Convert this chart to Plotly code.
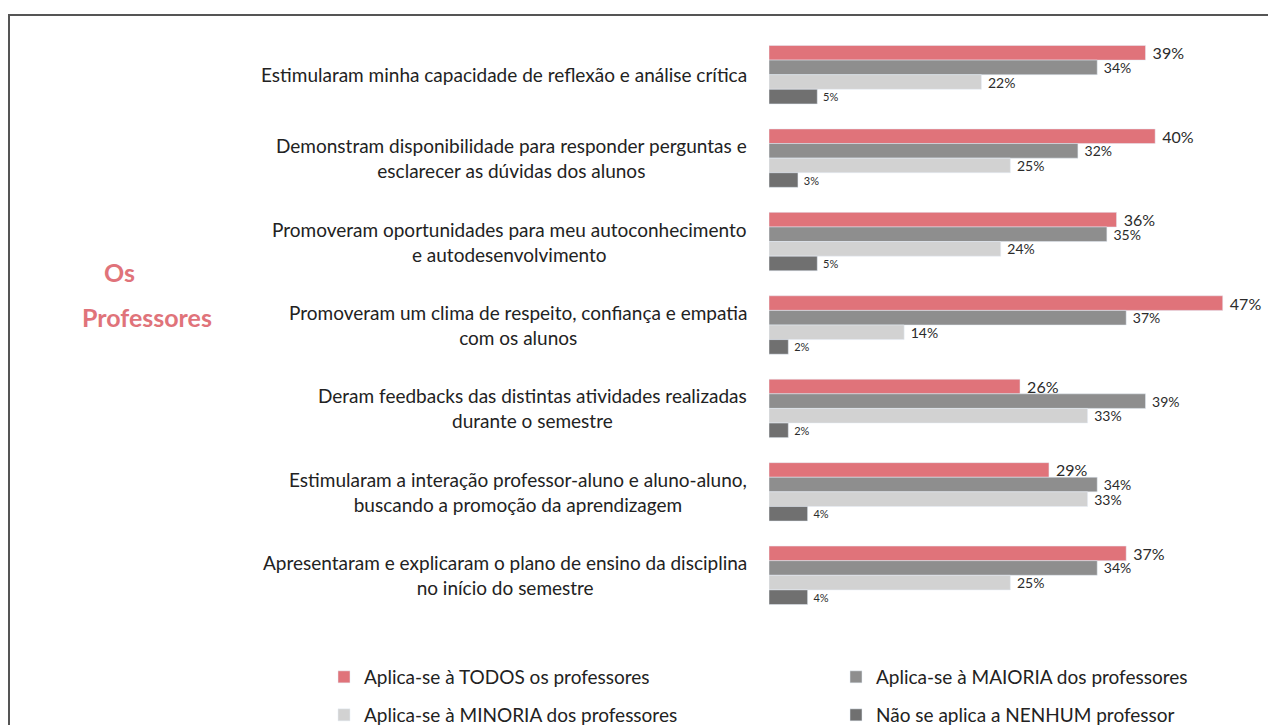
import plotly.graph_objects as go

categories = [
    "Estimularam minha capacidade de reflexão e análise crítica",
    "Demonstram disponibilidade para responder perguntas e<br>esclarecer as dúvidas dos alunos",
    "Promoveram oportunidades para meu autoconhecimento<br>e autodesenvolvimento",
    "Promoveram um clima de respeito, confiança e empatia<br>com os alunos",
    "Deram feedbacks das distintas atividades realizadas<br>durante o semestre",
    "Estimularam a interação professor-aluno e aluno-aluno,<br>buscando a promoção da aprendizagem",
    "Apresentaram e explicaram o plano de ensino da disciplina<br>no início do semestre",
]

todos = [39, 40, 36, 47, 26, 29, 37]
maioria = [34, 32, 35, 37, 39, 34, 34]
minoria = [22, 25, 24, 14, 33, 33, 25]
nenhum = [5, 3, 5, 2, 2, 4, 4]

series = [
    ("Aplica-se à TODOS os professores", todos, "#E0737A", 16, "legend"),
    ("Aplica-se à MAIORIA dos professores", maioria, "#8E8E8E", 14, "legend2"),
    ("Aplica-se à MINORIA dos professores", minoria, "#D2D2D2", 14, "legend3"),
    ("Não se aplica a NENHUM professor", nenhum, "#707070", 11, "legend4"),
]

font = "Lato, Calibri, sans-serif"
pink = "#E0737A"

# page has an 8px body margin, so the figure is drawn 8px in from the corner
W, H = 1268, 717
L, R, T, B = 761, 5, 25, 108
pw = W - L - R
ph = H - T - B

fig = go.Figure()

for name, vals, color, tsize, leg in series:
    fig.add_trace(go.Bar(
        y=categories,
        x=vals,
        name=name,
        orientation="h",
        marker_color=color,
        text=[f" {v}%" for v in vals],
        textposition="outside",
        constraintext="none",
        textfont=dict(size=tsize, color="#2b2b2b", family=font),
        cliponaxis=False,
        legend=leg,
    ))

legend_pos = {"legend": (316, 669), "legend2": (828, 669),
              "legend3": (316, 707), "legend4": (828, 707)}
legends = {}
for key, (lx, ly) in legend_pos.items():
    legends[key] = dict(orientation="h", xref="container", yref="container",
                        x=lx / W, y=1 - ly / H, yanchor="middle",
                        font=dict(size=19, color="#222222"),
                        bgcolor="rgba(0,0,0,0)")

fig.update_layout(
    width=W,
    height=H,
    barmode="group",
    bargap=0.3,
    bargroupgap=0,
    plot_bgcolor="white",
    paper_bgcolor="white",
    font=dict(family=font, size=16, color="#222222"),
    margin=dict(l=L, r=R, t=T, b=B),
    xaxis=dict(range=[0, 52], visible=False),
    yaxis=dict(autorange="reversed", showline=False, ticks="",
               showticklabels=False),
    showlegend=True,
    **legends,
)

# category labels: centred lines, right edge 20px left of the bars
for cat in categories:
    fig.add_annotation(text=cat, xref="paper", yref="y",
                       x=-20 / pw, y=cat, xanchor="right", align="center",
                       showarrow=False,
                       font=dict(size=19, color="#222222", family=font))

fig.add_annotation(text="<b>Os</b>", xref="paper", yref="paper",
                   x=(111 - L) / pw, y=1 - (264 - T) / ph,
                   xanchor="center", yanchor="middle", showarrow=False,
                   font=dict(size=25, color=pink, family=font))
fig.add_annotation(text="<b>Professores</b>", xref="paper", yref="paper",
                   x=(139 - L) / pw, y=1 - (309 - T) / ph,
                   xanchor="center", yanchor="middle", showarrow=False,
                   font=dict(size=25, color=pink, family=font))

# frame around the panel
fig.add_shape(type="line", xref="paper", yref="paper",
              x0=(0 - L) / pw, x1=(W + 10 - L) / pw,
              y0=1 - (7 - T) / ph, y1=1 - (7 - T) / ph,
              line=dict(color="#555555", width=2))
fig.add_shape(type="line", xref="paper", yref="paper",
              x0=(1 - L) / pw, x1=(1 - L) / pw,
              y0=1 - (6 - T) / ph, y1=1 - (H + 10 - T) / ph,
              line=dict(color="#555555", width=2))

fig.write_html("out.html")
